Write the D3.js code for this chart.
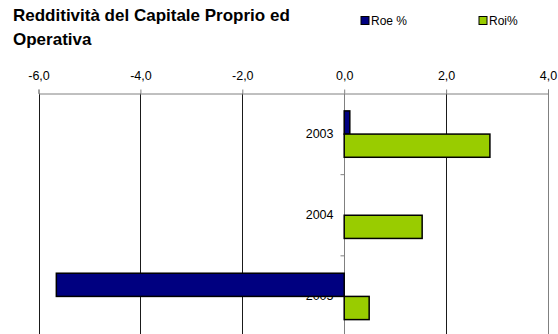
<!DOCTYPE html>
<html>
<head>
<meta charset="utf-8">
<script src="https://cdn.jsdelivr.net/npm/d3@7"></script>
<style>
  html, body { margin: 0; padding: 0; background: #fff; }
  svg { display: block; font-family: "Liberation Sans", Arial, sans-serif; }
</style>
</head>
<body>
<svg id="chart" width="558" height="334"></svg>
<script>
// Data
const years = ["2003", "2004", "2005"];
const roe = [0.11, null, -5.65];
const roi = [2.86, 1.53, 0.49];
const seriesNames = ["Roe %", "Roi%"];
const seriesColors = ["#000080", "#99CC00"];
const xTicks = [-6, -4, -2, 0, 2, 4];
const titleLines = ["Redditività del Capitale Proprio ed", "Operativa"];

const svg = d3.select("#chart");
const plot = { left: 38.5, right: 548, top: 93.5, bottom: 337 };

const x = d3.scaleLinear().domain([-6, 4]).range([plot.left, plot.right]);
const y = d3.scaleBand().domain(years).range([plot.top, plot.bottom])
  .paddingInner(1.5 / 3.5).paddingOuter(0.75 / 3.5);
const ySub = d3.scaleBand().domain(seriesNames).range([0, y.bandwidth()]);
const step = y.step();

const itLocale = d3.formatLocale({ decimal: ",", thousands: ".", grouping: [3], currency: ["", "€"], minus: "-" });
const fmt = itLocale.format(".1f");

// Title
svg.append("text")
  .attr("x", 13).attr("y", 21)
  .attr("font-size", 17).attr("font-weight", "bold").attr("fill", "#000")
  .selectAll("tspan").data(titleLines).join("tspan")
  .attr("x", 13).attr("dy", (d, i) => i === 0 ? 0 : 23.5)
  .text(d => d);

// Legend
const legend = svg.append("g");
const legendX = [361, 479];
seriesNames.forEach((name, i) => {
  const g = legend.append("g").attr("transform", `translate(${legendX[i]},16.5)`);
  g.append("rect").attr("width", 8).attr("height", 8)
    .attr("fill", seriesColors[i]).attr("stroke", "#000").attr("stroke-width", 1);
  g.append("text").attr("x", 10).attr("y", 8.5)
    .attr("font-size", 12).attr("fill", "#000").text(name);
});

// Vertical gridlines
svg.append("g").selectAll("line").data(xTicks.filter(t => t !== 0)).join("line")
  .attr("x1", d => Math.round(x(d)) + 0.5).attr("x2", d => Math.round(x(d)) + 0.5)
  .attr("y1", plot.top).attr("y2", 334)
  .attr("stroke", d => d === 4 ? "#808080" : "#1a1a1a").attr("stroke-width", 1);

// Top value axis
const xAxis = d3.axisTop(x).tickValues(xTicks).tickFormat(fmt).tickSize(4).tickPadding(10);
const gx = svg.append("g").attr("transform", `translate(0,${plot.top})`).call(xAxis);
gx.select(".domain").attr("stroke", "#808080");
gx.selectAll(".tick line").attr("stroke", "#808080");
gx.selectAll(".tick text").attr("font-size", 12.5).attr("fill", "#000")
  .attr("font-family", "Liberation Sans, Arial, sans-serif");

// Category axis at zero
const x0 = Math.round(x(0)) + 0.5;
const yAxis = d3.axisLeft(y).tickSize(0).tickPadding(11);
const gy = svg.append("g").attr("transform", `translate(${x0},0)`).call(yAxis);
gy.select(".domain").remove();
gy.selectAll(".tick text").attr("font-size", 12.5).attr("fill", "#000")
  .attr("font-family", "Liberation Sans, Arial, sans-serif");
svg.append("line").attr("x1", x0).attr("x2", x0).attr("y1", plot.top).attr("y2", 334)
  .attr("stroke", "#808080");
// category separators
svg.append("g").selectAll("line").data(years.slice(1)).join("line")
  .attr("x1", x0 - 4).attr("x2", x0)
  .attr("y1", d => y(d) - step * (0.75 / 3.5)).attr("y2", d => y(d) - step * (0.75 / 3.5))
  .attr("stroke", "#808080");

// Bars
const rows = [];
years.forEach((yr, i) => {
  [roe[i], roi[i]].forEach((v, j) => {
    if (v !== null) rows.push({ year: yr, series: seriesNames[j], value: v, color: seriesColors[j] });
  });
});
svg.append("g").selectAll("rect").data(rows).join("rect")
  .attr("x", d => x(Math.min(0, d.value)))
  .attr("width", d => Math.abs(x(d.value) - x(0)))
  .attr("y", d => y(d.year) + ySub(d.series))
  .attr("height", ySub.bandwidth())
  .attr("fill", d => d.color)
  .attr("stroke", "#000").attr("stroke-width", 1.5);
</script>
</body>
</html>
